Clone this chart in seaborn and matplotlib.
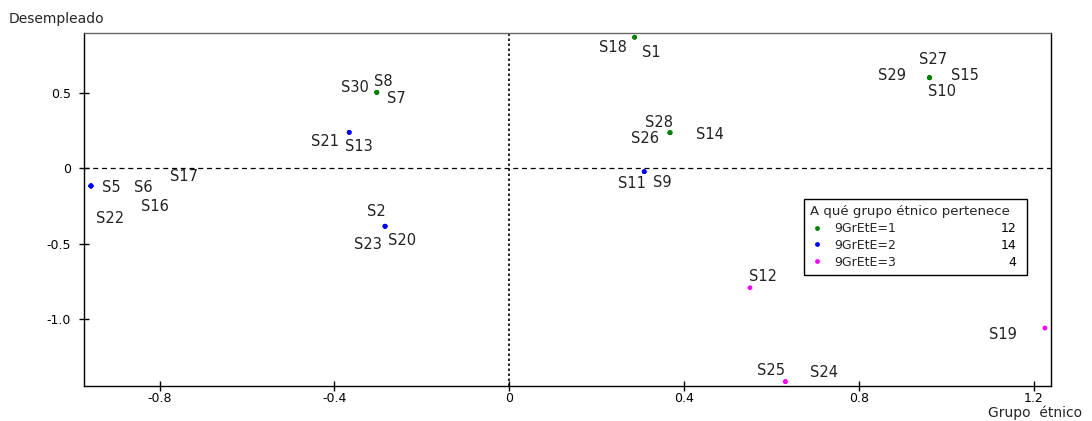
import matplotlib
matplotlib.use("Agg")
import matplotlib.pyplot as plt
import pandas as pd
import seaborn as sns

# case labels, coordinates on the two dimensions and ethnic group
cases = ["S1", "S18", "S27", "S29", "S15", "S10", "S30", "S8", "S7", "S28", "S26", "S14",
         "S21", "S13", "S5", "S6", "S17", "S16", "S22", "S11", "S9", "S2", "S23", "S20",
         "S12", "S25", "S24", "S19"]
grupo_etnico = [0.287, 0.287, 0.962, 0.962, 0.962, 0.962, -0.303, -0.303, -0.303, 0.368, 0.368, 0.368,
                -0.366, -0.366, -0.957, -0.957, -0.957, -0.957, -0.957, 0.309, 0.309, -0.284, -0.284, -0.284,
                0.551, 0.632, 0.632, 1.226]
desempleado = [0.868, 0.868, 0.600, 0.600, 0.600, 0.600, 0.503, 0.503, 0.503, 0.236, 0.236, 0.236,
               0.238, 0.238, -0.117, -0.117, -0.117, -0.117, -0.117, -0.022, -0.022, -0.384, -0.384, -0.384,
               -0.791, -1.413, -1.413, -1.058]
grupo = ["9GrEtE=1"] * 12 + ["9GrEtE=2"] * 12 + ["9GrEtE=3"] * 4

group_names = ["9GrEtE=1", "9GrEtE=2", "9GrEtE=3"]
group_counts = [12, 14, 4]
group_colors = ["#008000", "#0000ff", "#ff00ff"]

x_ticks = [-0.8, -0.4, 0, 0.4, 0.8, 1.2]
x_tick_labels = ["-0.8", "-0.4", "0", "0.4", "0.8", "1.2"]
y_ticks = [0.5, 0, -0.5, -1.0]
y_tick_labels = ["0.5", "0", "-0.5", "-1.0"]

# label offsets in pixels (dx right, dy down) relative to the point
label_offsets = {
    "S1": (17, 15), "S18": (-22, 10), "S27": (3, -18), "S29": (-38, -2), "S15": (35, -2),
    "S10": (12, 14), "S30": (-22, -5), "S8": (7, -11), "S7": (20, 6), "S28": (-11, -10),
    "S26": (-25, 6), "S14": (40, 2), "S21": (-24, 9), "S13": (10, 14), "S5": (20, 2),
    "S6": (52, 2), "S17": (93, -9), "S16": (64, 21), "S22": (19, 33), "S11": (-12, 12),
    "S9": (18, 11), "S2": (-9, -15), "S23": (-17, 18), "S20": (17, 14), "S12": (13, -11),
    "S25": (-14, -11), "S24": (39, -9), "S19": (-42, 6),
}

df = pd.DataFrame({"case": cases, "x": grupo_etnico, "y": desempleado, "grupo": grupo})

sns.set_style("white")
plt.rcParams["font.family"] = ["DejaVu Sans"]

fig = plt.figure(figsize=(10.92, 4.21), dpi=100)
ax = fig.add_axes([0.0769, 0.0831, 0.8856, 0.8385])

sns.scatterplot(data=df, x="x", y="y", hue="grupo", hue_order=group_names,
                palette=group_colors, s=12, linewidth=0, ax=ax)

ax.axhline(0, color="black", lw=0.9, linestyle=(0, (4, 3)), zorder=0)
ax.axvline(0, color="black", lw=1.2, linestyle=(0, (1.5, 1.5)), zorder=0)

for _, row in df.iterrows():
    dx, dy = label_offsets[row["case"]]
    ax.annotate(row["case"], (row["x"], row["y"]), xytext=(dx, -dy),
                textcoords="offset pixels", ha="center", va="center",
                fontsize=10.5, color="#222222")

ax.set_xlim(-0.973, 1.240)
ax.set_ylim(-1.442, 0.896)
ax.set_xticks(x_ticks)
ax.set_xticklabels(x_tick_labels)
ax.set_yticks(y_ticks)
ax.set_yticklabels(y_tick_labels)
ax.tick_params(bottom=True, left=True, direction="inout", length=7, width=1,
               labelsize=9, colors="black")
ax.tick_params(axis="x", pad=1)
ax.tick_params(axis="y", pad=6)
ax.set_xlabel("")
ax.set_ylabel("")

for side in ["left", "bottom", "right"]:
    ax.spines[side].set_color("black")
    ax.spines[side].set_linewidth(1)
ax.spines["top"].set_color("#666666")
ax.spines["top"].set_linewidth(1)

fig.text(9 / 1092, 1 - 19 / 421, "Desempleado", ha="left", va="center", fontsize=10)
fig.text(1082 / 1092, 1 - 413 / 421, "Grupo  étnico", ha="right", va="center", fontsize=10)

handles, labels = ax.get_legend_handles_labels()
leg = ax.legend(handles, labels, title="A qué grupo étnico pertenece",
                loc="upper left", bbox_to_anchor=(0.7446, 0.3297, 0.2309, 0.2), mode="expand",
                borderaxespad=0, fontsize=9, title_fontsize=9.5, frameon=True, fancybox=False,
                edgecolor="black", framealpha=1, alignment="left", handletextpad=0.9,
                handlelength=1.0, labelspacing=0.3, borderpad=0.5, markerscale=1.0)
leg.get_frame().set_linewidth(1)
leg.set_zorder(5)

fig.canvas.draw()
inv = ax.transAxes.inverted()
for txt, n in zip(leg.get_texts(), group_counts):
    bb = txt.get_window_extent()
    _, yc = inv.transform((0, (bb.y0 + bb.y1) / 2))
    ax.text(0.9645, yc, str(n), transform=ax.transAxes, ha="right", va="center",
            fontsize=9, color="black", zorder=10)

fig.savefig("out.png", dpi=100)
